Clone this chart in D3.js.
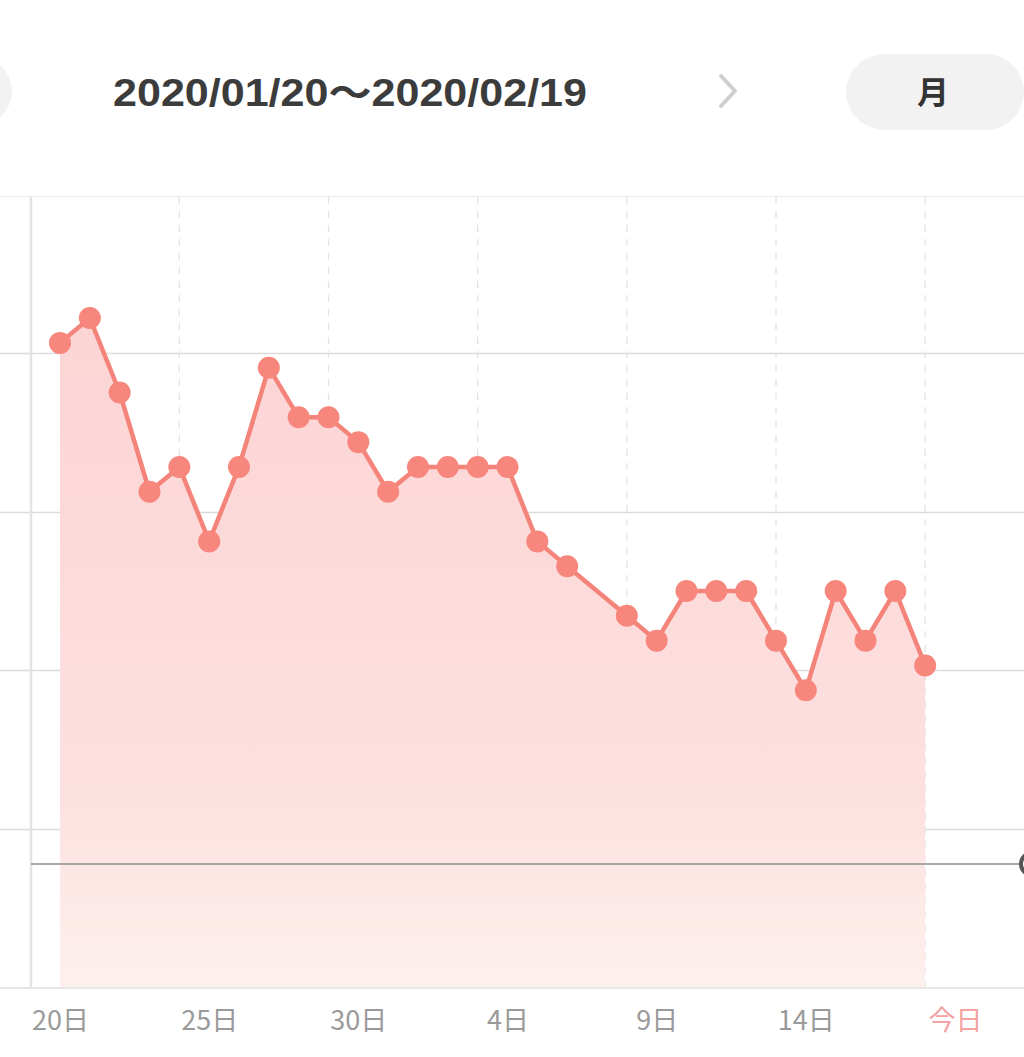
<!DOCTYPE html>
<html>
<head>
<meta charset="utf-8">
<script src="https://cdn.jsdelivr.net/npm/d3@7"></script>
<style>
  html,body{margin:0;padding:0;background:#fff;}
  svg{display:block;}
</style>
</head>
<body>
<svg id="chart" width="1024" height="1057"></svg>
<script>
// ---- data ----
const dates = ["01/20","01/21","01/22","01/23","01/24","01/25","01/26","01/27","01/28","01/29","01/30","01/31",
  "02/01","02/02","02/03","02/04","02/05","02/06","02/07","02/08","02/09","02/10","02/11","02/12","02/13",
  "02/14","02/15","02/16","02/17","02/18","02/19"];
const weights = [50.5,50.6,50.3,49.9,50.0,49.7,50.0,50.4,50.2,50.2,50.1,49.9,
  50.0,50.0,50.0,50.0,49.7,49.6,null,49.4,49.3,49.5,49.5,49.5,49.3,
  49.1,49.5,49.3,49.5,49.2,null];
const tickIdx = [0,5,10,15,20,25,30];
const tickLabels = ["20日","25日","30日","4日","9日","14日","今日"];
const dashIdx = [4,9,14,19,24,29];
const gridValues = [51.09,50.46,49.82,49.18,48.54];
const goalValue = 48.4;
const title = "2020/01/20～2020/02/19";
const periodLabel = "月";

// ---- layout ----
const svg = d3.select("#chart");
const W = 1024;
const x = d3.scaleLinear().domain([0, 30]).range([60, 955]);
const y = d3.scaleLinear().domain([47.9, 51.1]).range([988, 194]);
const yTop = 197, yBottom = 988;

// header
svg.append("ellipse").attr("cx", -30).attr("cy", 91).attr("rx", 42).attr("ry", 38).attr("fill", "#f2f2f2");
svg.append("text").attr("x", 350).attr("y", 106).attr("text-anchor", "middle")
  .attr("font-family", "'Liberation Sans','Noto Sans CJK JP',sans-serif")
  .attr("font-size", 38).attr("font-weight", 700).attr("fill", "#3c3c3c")
  .attr("textLength", 474).attr("lengthAdjust", "spacingAndGlyphs").text(title);
svg.append("path").attr("d", "M721,76 L735,91 L721,106").attr("fill", "none")
  .attr("stroke", "#cfcfcf").attr("stroke-width", 4).attr("stroke-linecap", "round").attr("stroke-linejoin", "round");
svg.append("rect").attr("x", 846).attr("y", 54).attr("width", 178).attr("height", 76).attr("rx", 38)
  .attr("fill", "#f2f2f2");
svg.append("text").attr("x", 933).attr("y", 104).attr("text-anchor", "middle")
  .attr("font-family", "'Noto Sans CJK JP',sans-serif").attr("font-size", 32).attr("font-weight", 700)
  .attr("fill", "#333").text(periodLabel);

// gradient
const defs = svg.append("defs");
const grad = defs.append("linearGradient").attr("id", "fillGrad").attr("x1", 0).attr("y1", 0).attr("x2", 0).attr("y2", 1);
grad.append("stop").attr("offset", "0%").attr("stop-color", "#fcd4d4");
grad.append("stop").attr("offset", "70%").attr("stop-color", "#fde0e0");
grad.append("stop").attr("offset", "100%").attr("stop-color", "#fdf0ec");

// grid
const g = svg.append("g");
g.selectAll("line.h").data(gridValues).join("line").attr("class", "h")
  .attr("x1", 0).attr("x2", W).attr("y1", d => Math.round(y(d)) + 0.5).attr("y2", d => Math.round(y(d)) + 0.5)
  .attr("stroke", (d, i) => i === 0 ? "#efefef" : "#dcdcdc").attr("stroke-width", 1.5);
g.selectAll("line.v").data(dashIdx).join("line").attr("class", "v")
  .attr("x1", d => x(d)).attr("x2", d => x(d)).attr("y1", yTop).attr("y2", yBottom)
  .attr("stroke", "#e2e2e2").attr("stroke-width", 1.2).attr("stroke-dasharray", "7,7");

// area + line
const pts = weights.map((v, i) => ({i, v})).filter(d => d.v !== null);
const area = d3.area().x(d => x(d.i)).y0(yBottom).y1(d => y(d.v));
svg.append("path").datum(pts).attr("d", area).attr("fill", "url(#fillGrad)");

// axes lines
svg.append("line").attr("x1", 31).attr("x2", 31).attr("y1", yTop).attr("y2", yBottom)
  .attr("stroke", "#e3e3e3").attr("stroke-width", 2.5);
svg.append("line").attr("x1", 0).attr("x2", W).attr("y1", yBottom).attr("y2", yBottom)
  .attr("stroke", "#e6e6e6").attr("stroke-width", 2);

// goal line
svg.append("line").attr("x1", 31).attr("x2", W).attr("y1", y(goalValue)).attr("y2", y(goalValue))
  .attr("stroke", "#a8a8a8").attr("stroke-width", 2);
svg.append("circle").attr("cx", 1032).attr("cy", y(goalValue)).attr("r", 11)
  .attr("fill", "#fff").attr("stroke", "#555").attr("stroke-width", 4);

const line = d3.line().x(d => x(d.i)).y(d => y(d.v));
svg.append("path").datum(pts).attr("d", line).attr("fill", "none")
  .attr("stroke", "#f4847a").attr("stroke-width", 4.5).attr("stroke-linejoin", "round");
svg.selectAll("circle.pt").data(pts).join("circle").attr("class", "pt")
  .attr("cx", d => x(d.i)).attr("cy", d => y(d.v)).attr("r", 11).attr("fill", "#f7867c");

// x labels
const xAxis = d3.axisBottom(x).tickValues(tickIdx).tickFormat((d, i) => tickLabels[i]).tickSize(0).tickPadding(0);
const ax = svg.append("g").attr("transform", "translate(0,1011)").call(xAxis);
ax.select(".domain").remove();
ax.selectAll("text").attr("font-family", "'Noto Sans CJK JP',sans-serif").attr("font-size", 27)
  .attr("fill", (d, i) => i === tickLabels.length - 1 ? "#f2a2a2" : "#9a9a9a");
</script>
</body>
</html>
